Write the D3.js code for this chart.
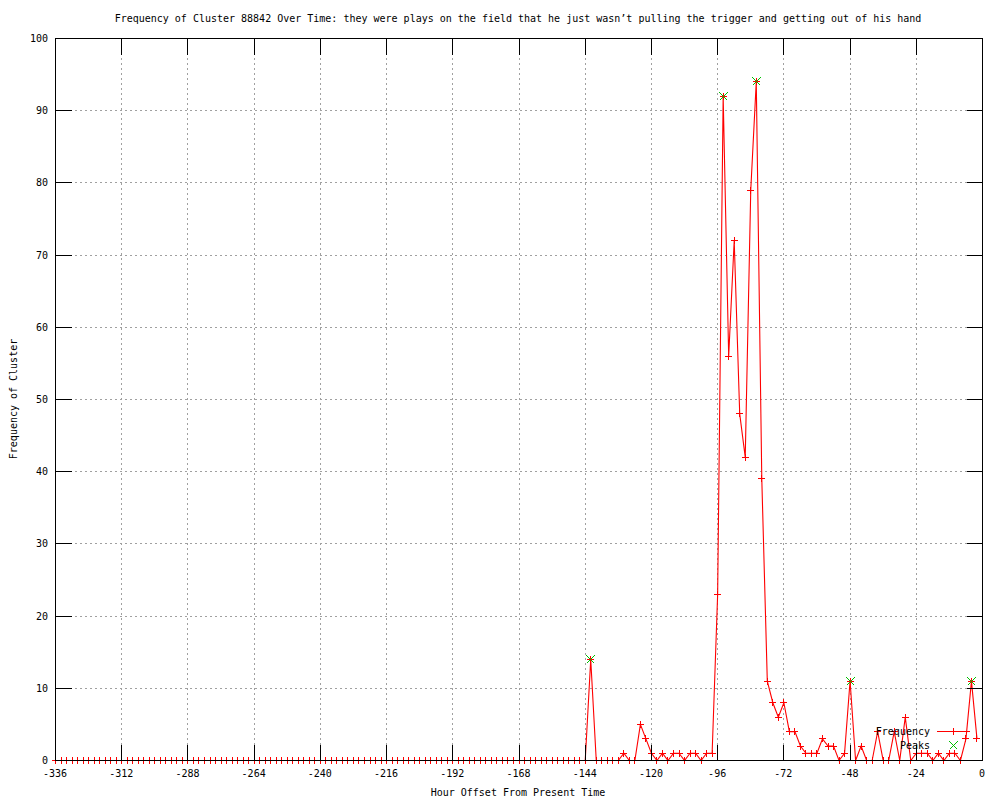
<!DOCTYPE html>
<html>
<head>
<meta charset="utf-8">
<script src="https://cdn.jsdelivr.net/npm/d3@7"></script>
<style>
  html, body { margin: 0; padding: 0; background: #fff; }
  svg { display: block; }
  text { font-family: "DejaVu Sans Mono", "Liberation Mono", monospace; font-size: 10px; fill: #000; }
</style>
</head>
<body>
<svg id="chart" width="1000" height="800"></svg>
<script>
// ---- data ----
const hours = [
  -336,-334,-332,-330,-328,-326,-324,-322,-320,-318,
  -316,-314,-312,-310,-308,-306,-304,-302,-300,-298,
  -296,-294,-292,-290,-288,-286,-284,-282,-280,-278,
  -276,-274,-272,-270,-268,-266,-264,-262,-260,-258,
  -256,-254,-252,-250,-248,-246,-244,-242,-240,-238,
  -236,-234,-232,-230,-228,-226,-224,-222,-220,-218,
  -216,-214,-212,-210,-208,-206,-204,-202,-200,-198,
  -196,-194,-192,-190,-188,-186,-184,-182,-180,-178,
  -176,-174,-172,-170,-168,-166,-164,-162,-160,-158,
  -156,-154,-152,-150,-148,-146,-144,-142,-140,-138,
  -136,-134,-132,-130,-128,-126,-124,-122,-120,-118,
  -116,-114,-112,-110,-108,-106,-104,-102,-100,-98,
  -96,-94,-92,-90,-88,-86,-84,-82,-80,-78,
  -76,-74,-72,-70,-68,-66,-64,-62,-60,-58,
  -56,-54,-52,-50,-48,-46,-44,-42,-40,-38,
  -36,-34,-32,-30,-28,-26,-24,-22,-20,-18,
  -16,-14,-12,-10,-8,-6,-4,-2
];
const frequency = [
  0,0,0,0,0,0,0,0,0,0,
  0,0,0,0,0,0,0,0,0,0,
  0,0,0,0,0,0,0,0,0,0,
  0,0,0,0,0,0,0,0,0,0,
  0,0,0,0,0,0,0,0,0,0,
  0,0,0,0,0,0,0,0,0,0,
  0,0,0,0,0,0,0,0,0,0,
  0,0,0,0,0,0,0,0,0,0,
  0,0,0,0,0,0,0,0,0,0,
  0,0,0,0,0,0,0,14,0,0,
  0,0,0,1,0,0,5,3,1,0,
  1,0,1,1,0,1,1,0,1,1,
  23,92,56,72,48,42,79,94,39,11,
  8,6,8,4,4,2,1,1,1,3,
  2,2,0,1,11,0,2,0,0,4,
  0,0,4,0,6,0,1,1,1,0,
  1,0,1,1,0,3,11,3
];
const peakHours = [-142, -94, -82, -48, -4];
const peakValues = [14, 92, 94, 11, 11];
const xTicks = [-336,-312,-288,-264,-240,-216,-192,-168,-144,-120,-96,-72,-48,-24,0];
const yTicks = [0,10,20,30,40,50,60,70,80,90,100];
const titleText = "Frequency of Cluster 88842 Over Time: they were plays on the field that he just wasn\u2019t pulling the trigger and getting out of his hand";
const xLabel = "Hour Offset From Present Time";
const yLabel = "Frequency of Cluster";
const seriesNames = ["Frequency", "Peaks"];

// ---- layout ----
const L = 55, R = 982, T = 38, B = 760;
const svg = d3.select("#chart");
const x = d3.scaleLinear().domain([-336, 0]).range([L, R]);
const y = d3.scaleLinear().domain([0, 100]).range([B, T]);
const red = "#ff0000", green = "#00c000";
const tickLen = 16;

// grid
const grid = svg.append("g").attr("stroke", "#a0a0a0").attr("stroke-width", 1)
  .attr("stroke-dasharray", "2,3").attr("shape-rendering", "crispEdges");
grid.selectAll("line.v").data(xTicks.filter(d => d > -336 && d < 0)).enter().append("line")
  .attr("x1", d => Math.round(x(d)) + 0.5).attr("x2", d => Math.round(x(d)) + 0.5)
  .attr("y1", B).attr("y2", T);
grid.selectAll("line.h").data(yTicks.filter(d => d > 0 && d < 100)).enter().append("line")
  .attr("y1", d => Math.round(y(d)) + 0.5).attr("y2", d => Math.round(y(d)) + 0.5)
  .attr("x1", L).attr("x2", R);

// data line
const pts = hours.map((h, i) => [h, frequency[i]]);
svg.append("path").datum(pts)
  .attr("fill", "none").attr("stroke", red).attr("stroke-width", 1.1)
  .attr("d", d3.line().x(d => x(d[0]) + 0.5).y(d => y(d[1]) + 0.5));

function plus(g, cx, cy, color) {
  const s = 3.5;
  g.append("path").attr("stroke", color).attr("stroke-width", 1).attr("fill", "none")
    .attr("shape-rendering", "crispEdges")
    .attr("d", `M${Math.round(cx)-s+0.5},${Math.round(cy)+0.5}H${Math.round(cx)+s+0.5}M${Math.round(cx)+0.5},${Math.round(cy)-s+0.5}V${Math.round(cy)+s+0.5}`);
}
function cross(g, cx, cy, color) {
  const s = 4;
  const X = Math.round(cx) + 0.5, Y = Math.round(cy) + 0.5;
  g.append("path").attr("stroke", color).attr("stroke-width", 1.2).attr("fill", "none")
    .attr("shape-rendering", "crispEdges")
    .attr("d", `M${X-s},${Y-s}L${X+s},${Y+s}M${X-s},${Y+s}L${X+s},${Y-s}`);
}

const markers = svg.append("g");
pts.forEach(d => plus(markers, x(d[0]), y(d[1]), red));
const peaks = svg.append("g");
peakHours.forEach((h, i) => cross(peaks, x(h), y(peakValues[i]), green));

// border & ticks
const axisG = svg.append("g").attr("stroke", "#000").attr("stroke-width", 1).attr("shape-rendering", "crispEdges");
axisG.append("rect").attr("x", L + 0.5).attr("y", T + 0.5).attr("width", R - L).attr("height", B - T)
  .attr("fill", "none");
xTicks.forEach(t => {
  const px = Math.round(x(t)) + 0.5;
  axisG.append("line").attr("x1", px).attr("x2", px).attr("y1", B + 0.5).attr("y2", B + 0.5 - tickLen);
  axisG.append("line").attr("x1", px).attr("x2", px).attr("y1", T + 0.5).attr("y2", T + 0.5 + tickLen);
});
yTicks.forEach(t => {
  const py = Math.round(y(t)) + 0.5;
  axisG.append("line").attr("y1", py).attr("y2", py).attr("x1", L + 0.5).attr("x2", L + 0.5 + tickLen);
  axisG.append("line").attr("y1", py).attr("y2", py).attr("x1", R + 0.5).attr("x2", R + 0.5 - tickLen);
});

// tick labels
svg.append("g").selectAll("text").data(xTicks).enter().append("text")
  .attr("x", d => x(d)).attr("y", 777).attr("text-anchor", "middle").text(d => d);
svg.append("g").selectAll("text").data(yTicks).enter().append("text")
  .attr("x", 48).attr("y", d => y(d) + 4).attr("text-anchor", "end").text(d => d);

// title & axis labels
svg.append("text").attr("x", 518).attr("y", 22).attr("text-anchor", "middle").text(titleText);
svg.append("text").attr("x", 518).attr("y", 796).attr("text-anchor", "middle").text(xLabel);
svg.append("text").attr("transform", "translate(17,399) rotate(-90)").attr("text-anchor", "middle").text(yLabel);

// legend
const lg = svg.append("g");
lg.append("text").attr("x", 930).attr("y", 735).attr("text-anchor", "end").text(seriesNames[0]);
lg.append("path").attr("d", "M937,731.5H970")
  .attr("stroke", red).attr("stroke-width", 1).attr("fill", "none").attr("shape-rendering", "crispEdges");
plus(lg, 953, 731, red);
lg.append("text").attr("x", 930).attr("y", 749).attr("text-anchor", "end").text(seriesNames[1]);
cross(lg, 953, 745, green);
</script>
</body>
</html>
